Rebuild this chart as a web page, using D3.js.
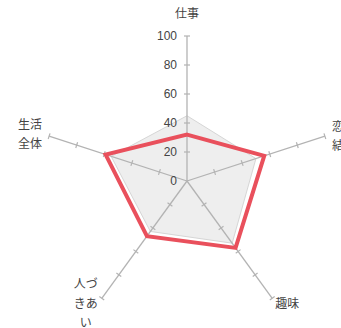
<!DOCTYPE html>
<html><head><meta charset="utf-8">
<script src="https://cdn.jsdelivr.net/npm/d3@7"></script>
<style>html,body{margin:0;padding:0;background:#fff;overflow:hidden}</style>
</head><body>
<svg id="c" width="341" height="328"></svg>
<script>
const categories = ["仕事", "恋愛結婚", "趣味", "人づきあい", "生活全体"];
const seriesA = [45, 50, 53, 43, 55];   // gray area
const seriesB = [32, 56, 57, 47, 59];   // red line
const tickValues = [0, 20, 40, 60, 80, 100];

const svg = d3.select("#c");
const cx = 187, cy = 181, R = 145;
const r = d3.scaleLinear().domain([0, 100]).range([0, R]);
const n = categories.length;
const ang = i => -Math.PI / 2 + i * 2 * Math.PI / n;
const pt = (i, v) => [cx + Math.cos(ang(i)) * r(v), cy + Math.sin(ang(i)) * r(v)];

const line = d3.line().curve(d3.curveLinearClosed);

// gray area
svg.append("path")
  .attr("d", line(seriesA.map((v, i) => pt(i, v))))
  .attr("fill", "#eeeeee").attr("stroke", "#d6d6d6").attr("stroke-width", 1);

// axes
const axisColor = "#b3b3b3";
categories.forEach((c, i) => {
  const e = pt(i, 100);
  svg.append("line").attr("x1", cx).attr("y1", cy).attr("x2", e[0]).attr("y2", e[1])
    .attr("stroke", axisColor).attr("stroke-width", 1.3);
  const a = ang(i), px = -Math.sin(a), py = Math.cos(a);
  tickValues.slice(1).forEach(t => {
    const p = pt(i, t);
    svg.append("line")
      .attr("x1", p[0] - px * 3).attr("y1", p[1] - py * 3)
      .attr("x2", p[0] + px * 3).attr("y2", p[1] + py * 3)
      .attr("stroke", axisColor).attr("stroke-width", 1.2);
  });
});

// tick labels on first axis
tickValues.forEach(t => {
  svg.append("text").attr("x", cx - 10).attr("y", cy - r(t))
    .attr("dy", "0.36em").attr("text-anchor", "end")
    .attr("font-family", "Liberation Sans, Arial, sans-serif").attr("font-size", 12)
    .attr("fill", "#444").text(t);
});

// red line
svg.append("path")
  .attr("d", line(seriesB.map((v, i) => pt(i, v))))
  .attr("fill", "none").attr("stroke", "#e9505c").attr("stroke-width", 4)
  .attr("stroke-linejoin", "miter");

// category labels
const fs = 12, lh = 19.5;
categories.forEach((c, i) => {
  const e = pt(i, 100);
  const lines = (i === 0 || i === 2) ? [c] : c.match(/.{1,2}/g);
  const w = Math.max(...lines.map(l => l.length)) * fs;
  const h = lines.length * lh;
  let x, yTop;
  const ca = Math.cos(ang(i)), sa = Math.sin(ang(i));
  if (Math.abs(ca) < 0.01) { x = e[0]; yTop = e[1] - 12 - h; }
  else if (ca > 0) { x = e[0] + (sa > 0.5 ? 3 : 7) + w / 2; yTop = e[1] + (sa > 0.5 ? 5 : 0) - h / 2; }
  else { x = e[0] - (sa > 0.5 ? 4 : 7) - w / 2; yTop = e[1] + (sa > 0.5 ? 5 : -2) - h / 2; }
  const t = svg.append("text").attr("text-anchor", "middle")
    .attr("font-family", "Noto Sans CJK JP, sans-serif").attr("font-size", fs).attr("fill", "#444");
  lines.forEach((l, k) => {
    t.append("tspan").attr("x", x).attr("y", yTop + lh * k + lh / 2).attr("dy", "0.35em").text(l);
  });
});
</script>
</body></html>
